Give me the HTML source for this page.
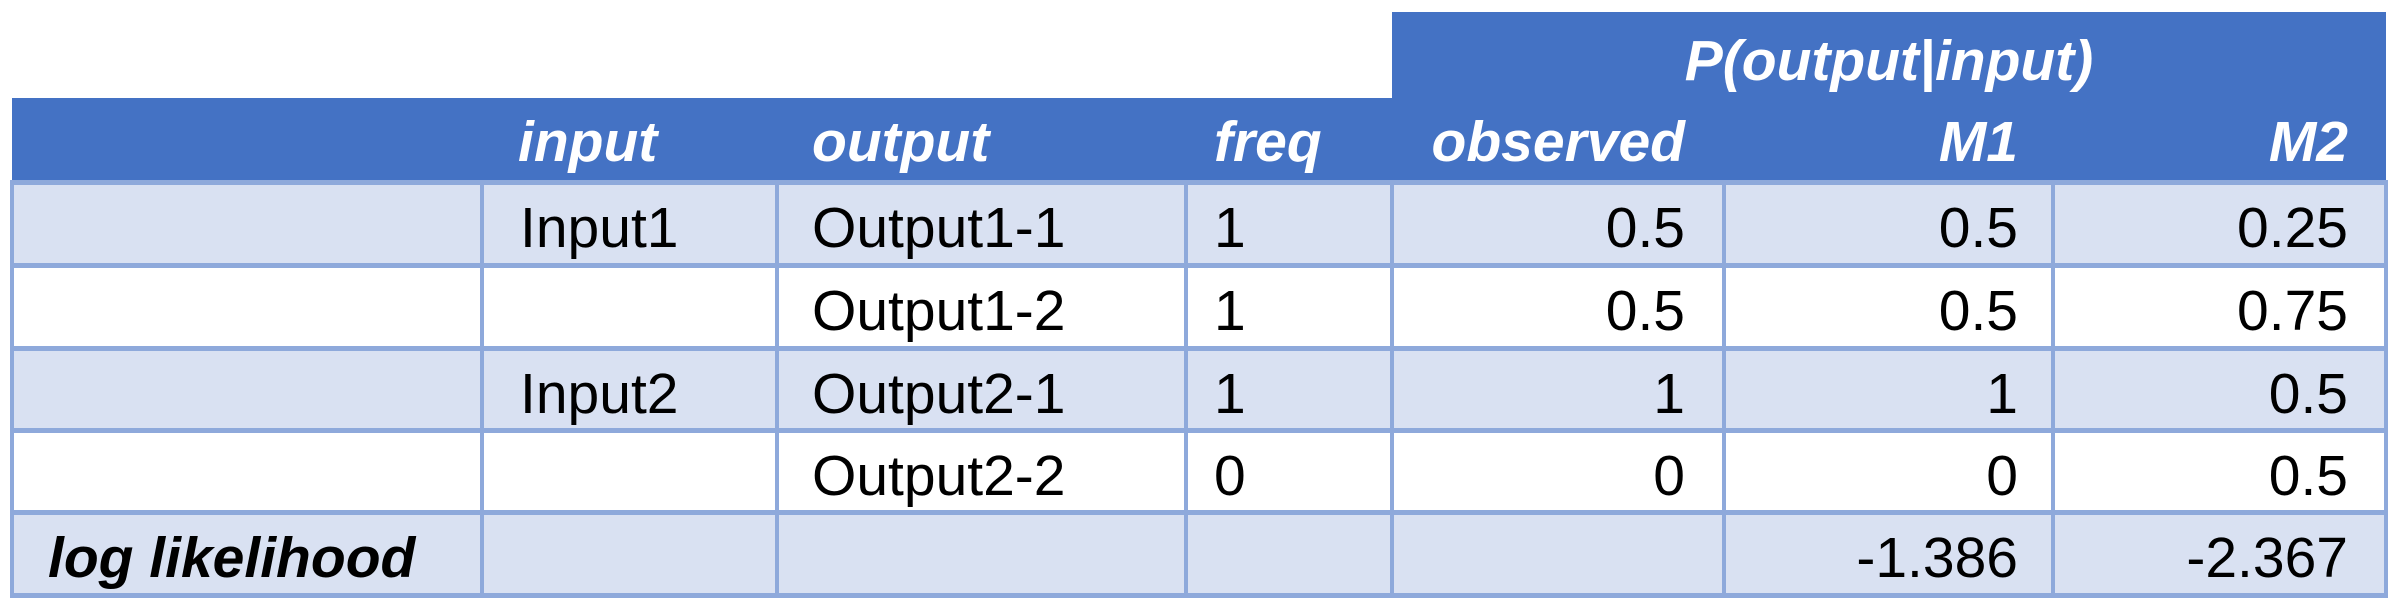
<!DOCTYPE html>
<html><head><meta charset="utf-8"><style>
body{margin:0;width:2399px;height:607px;background:#fff;position:relative;overflow:hidden;font-family:"Liberation Sans",sans-serif;}
div{position:absolute;box-sizing:border-box;}
.t{font-size:57px;line-height:1;white-space:nowrap;color:#000;}
.h{font-weight:bold;font-style:italic;color:#fff;}
.r{text-align:right;}
</style></head><body>
<div style="left:1392px;top:12px;width:994px;height:90px;background:#4472C4"></div>
<div style="left:12px;top:98px;width:2374px;height:86px;background:#4472C4"></div>
<div style="left:12px;top:182px;width:2374px;height:83px;background:#D9E1F2"></div>
<div style="left:12px;top:348px;width:2374px;height:82px;background:#D9E1F2"></div>
<div style="left:12px;top:512px;width:2374px;height:83px;background:#D9E1F2"></div>
<!-- horizontal lines -->
<div style="left:12px;top:180px;width:2376px;height:5px;background:#8EA9DB"></div>
<div style="left:12px;top:263px;width:2376px;height:5px;background:#8EA9DB"></div>
<div style="left:12px;top:346px;width:2376px;height:5px;background:#8EA9DB"></div>
<div style="left:12px;top:428px;width:2376px;height:5px;background:#8EA9DB"></div>
<div style="left:12px;top:510px;width:2376px;height:5px;background:#8EA9DB"></div>
<div style="left:12px;top:593px;width:2376px;height:5px;background:#8EA9DB"></div>
<!-- vertical lines -->
<div style="left:10px;top:180px;width:4px;height:418px;background:#8EA9DB"></div>
<div style="left:480px;top:180px;width:4px;height:418px;background:#8EA9DB"></div>
<div style="left:775px;top:180px;width:4px;height:418px;background:#8EA9DB"></div>
<div style="left:1184px;top:180px;width:4px;height:418px;background:#8EA9DB"></div>
<div style="left:1390px;top:180px;width:4px;height:418px;background:#8EA9DB"></div>
<div style="left:1722px;top:180px;width:4px;height:418px;background:#8EA9DB"></div>
<div style="left:2051px;top:180px;width:4px;height:418px;background:#8EA9DB"></div>
<div style="left:2384px;top:180px;width:4px;height:418px;background:#8EA9DB"></div>
<!-- header text -->
<div class="t h" style="left:1392px;width:994px;top:33px;text-align:center">P(output|input)</div>
<div class="t h" style="left:518px;top:114px">input</div>
<div class="t h" style="left:812px;top:114px">output</div>
<div class="t h" style="left:1214px;top:114px">freq</div>
<div class="t h r" style="left:1392px;width:293px;top:114px">observed</div>
<div class="t h r" style="left:1724px;width:294px;top:114px">M1</div>
<div class="t h r" style="left:2053px;width:295px;top:114px">M2</div>
<!-- rows -->
<div class="t" style="left:520px;top:200px">Input1</div>
<div class="t" style="left:812px;top:200px">Output1-1</div>
<div class="t" style="left:1214px;top:200px">1</div>
<div class="t r" style="left:1392px;width:293px;top:200px">0.5</div>
<div class="t r" style="left:1724px;width:294px;top:200px">0.5</div>
<div class="t r" style="left:2053px;width:295px;top:200px">0.25</div>

<div class="t" style="left:812px;top:283px">Output1-2</div>
<div class="t" style="left:1214px;top:283px">1</div>
<div class="t r" style="left:1392px;width:293px;top:283px">0.5</div>
<div class="t r" style="left:1724px;width:294px;top:283px">0.5</div>
<div class="t r" style="left:2053px;width:295px;top:283px">0.75</div>

<div class="t" style="left:520px;top:366px">Input2</div>
<div class="t" style="left:812px;top:366px">Output2-1</div>
<div class="t" style="left:1214px;top:366px">1</div>
<div class="t r" style="left:1392px;width:293px;top:366px">1</div>
<div class="t r" style="left:1724px;width:294px;top:366px">1</div>
<div class="t r" style="left:2053px;width:295px;top:366px">0.5</div>

<div class="t" style="left:812px;top:448px">Output2-2</div>
<div class="t" style="left:1214px;top:448px">0</div>
<div class="t r" style="left:1392px;width:293px;top:448px">0</div>
<div class="t r" style="left:1724px;width:294px;top:448px">0</div>
<div class="t r" style="left:2053px;width:295px;top:448px">0.5</div>

<div class="t" style="left:48px;top:530px;font-weight:bold;font-style:italic">log likelihood</div>
<div class="t r" style="left:1724px;width:294px;top:530px">-1.386</div>
<div class="t r" style="left:2053px;width:295px;top:530px">-2.367</div>
</body></html>
